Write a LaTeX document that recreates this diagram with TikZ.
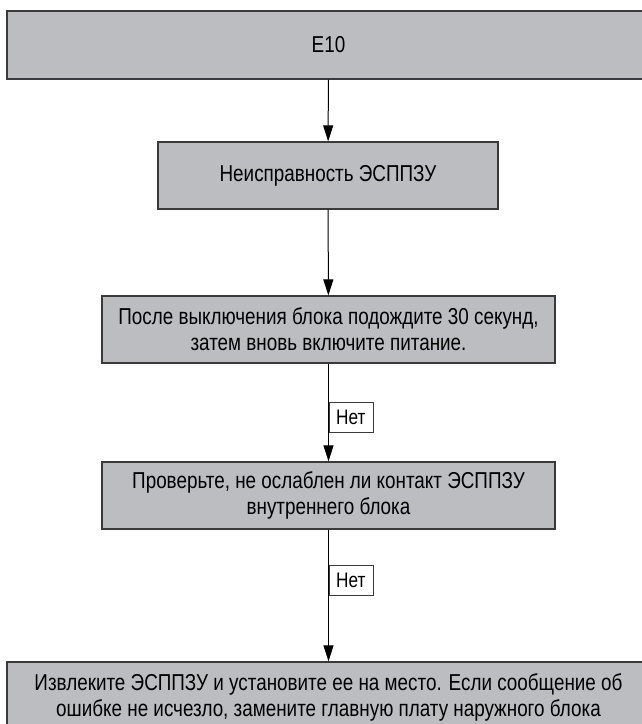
\documentclass[tikz,border=0pt]{standalone}
\usepackage{fontspec}
\setmainfont{Liberation Sans}[FakeStretch=0.82]
\usepackage{xcolor}
\usetikzlibrary{arrows.meta, positioning}
\definecolor{cFill}{HTML}{BCBDC1}
\definecolor{cEdge}{HTML}{3A3A3A}
\tikzset{
  stepbox/.style={rectangle, draw=cEdge, line width=1.3pt, fill=cFill,
    align=center, font=\fontsize{23}{26}\selectfont, inner sep=0pt},
  answer/.style={rectangle, draw=cEdge, line width=0.8pt, fill=white,
    font=\fontsize{21}{24}\selectfont, inner sep=3pt, anchor=west,
    minimum width=44pt, minimum height=30pt},
  flow/.style={-{Triangle[length=16pt, width=10pt]}, draw=black, line width=1pt},
}
\begin{document}
\begin{tikzpicture}[x=1pt, y=-1pt]
\useasboundingbox (0,0) rectangle (642,724);
% boxes of the chart
\node[stepbox, minimum width=643pt, minimum height=68pt] (code) at (328.5,45) {E10};
\node[stepbox, minimum width=340pt, minimum height=67pt] (fault) at (328,175.5) {Неисправность ЭСППЗУ};
\node[stepbox, minimum width=453pt, minimum height=67pt] (restart) at (328.5,329.5) {После выключения блока подождите 30 секунд,\\ затем вновь включите питание.};
\node[stepbox, minimum width=453pt, minimum height=67pt] (contact) at (328.5,495.5) {Проверьте, не ослаблен ли контакт ЭСППЗУ\\ внутреннего блока};
\node[stepbox, minimum width=643pt, minimum height=70pt] (replace) at (328.5,697) {Извлеките ЭСППЗУ и установите ее на место. Если сообщение об\\ ошибке не исчезло, замените главную плату наружного блока};
% connectors
\draw[flow] (code) -- (fault);
\draw[flow] (fault) -- (restart);
\draw[flow] (restart) -- (contact);
\draw[flow] (contact) -- (replace);
% answers
\node[answer] (no1) at (328.5,417) {Нет};
\node[answer] (no2) at (328.5,580.5) {Нет};
\end{tikzpicture}
\end{document}
